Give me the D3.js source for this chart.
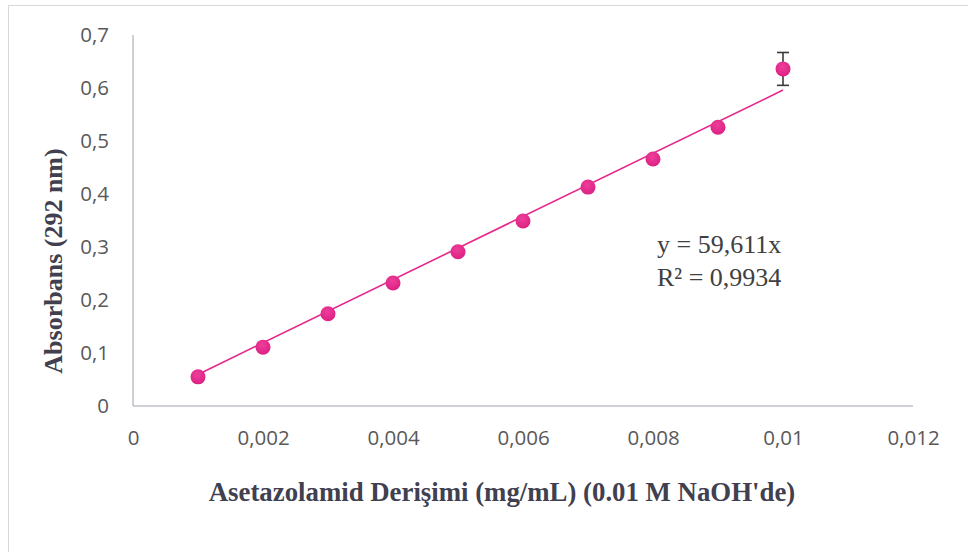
<!DOCTYPE html>
<html>
<head>
<meta charset="utf-8">
<script src="https://cdn.jsdelivr.net/npm/d3@7"></script>
<style>
  body { margin: 0; background: #fff; }
  svg { display: block; }
</style>
</head>
<body>
<svg id="chart" width="968" height="552"></svg>
<script>
// concentration (mg/mL) and absorbance
var conc = [0.001, 0.002, 0.003, 0.004, 0.005, 0.006, 0.007, 0.008, 0.009, 0.01];
var absorb = [0.055, 0.111, 0.174, 0.232, 0.291, 0.349, 0.413, 0.466, 0.526, 0.636];
var errs = [0, 0, 0, 0, 0, 0, 0, 0, 0, 0.031];
var slope = 59.611;
var xTicks = [0, 0.002, 0.004, 0.006, 0.008, 0.01, 0.012];
var yTicks = [0, 0.1, 0.2, 0.3, 0.4, 0.5, 0.6, 0.7];
var eqLines = ["y = 59,611x", "R² = 0,9934"];

var pink = "#E6288C";
var serif = "'Liberation Serif', 'DejaVu Serif', serif";
var svg = d3.select("#chart");

//## chart frame
svg.append("rect")
    .attr("x", 8.5).attr("y", 5.5)
    .attr("width", 980).attr("height", 580)
    .attr("fill", "none")
    .attr("stroke", "#D9D9D9");

var x = d3.scaleLinear().domain([0, 0.012]).range([133, 913]);
var y = d3.scaleLinear().domain([0, 0.7]).range([406, 35]);

function comma(v) { return String(+v.toFixed(4)).replace(".", ","); }

//## axes
var xAxis = svg.append("g")
    .attr("transform", "translate(0,406)")
    .call(d3.axisBottom(x).tickValues(xTicks).tickSize(0).tickPadding(24).tickFormat(comma));
var yAxis = svg.append("g")
    .attr("transform", "translate(133,0)")
    .call(d3.axisLeft(y).tickValues(yTicks).tickSize(0).tickPadding(24).tickFormat(comma));

[xAxis, yAxis].forEach(function(a) {
    a.select(".domain").attr("stroke", "#BFBFC8").attr("stroke-width", 1.5);
    a.selectAll("text")
        .attr("fill", "#595959")
        .style("font-family", "'Open Sans', 'Noto Sans', sans-serif")
        .style("font-size", "20.5px");
});
yAxis.select(".domain").attr("d", "M0," + y(0) + "V" + y(0.7));
xAxis.select(".domain").attr("d", "M" + x(0) + ",0H" + x(0.012));

//## trend line
svg.append("line")
    .attr("x1", x(conc[0])).attr("y1", y(slope * conc[0]))
    .attr("x2", x(conc[conc.length - 1])).attr("y2", y(slope * conc[conc.length - 1]))
    .attr("stroke", pink)
    .attr("stroke-width", 1.6);

//## error bars
var eb = svg.append("g").selectAll("g")
    .data(conc.map(function(c, i) { return { c: c, a: absorb[i], e: errs[i] }; })
        .filter(function(d) { return d.e > 0; }))
    .enter().append("g")
    .attr("stroke", "#3A3A3A")
    .attr("stroke-width", 1.6);
eb.append("line")
    .attr("x1", function(d) { return x(d.c); }).attr("x2", function(d) { return x(d.c); })
    .attr("y1", function(d) { return y(d.a + d.e); }).attr("y2", function(d) { return y(d.a - d.e); });
eb.append("line")
    .attr("x1", function(d) { return x(d.c) - 6; }).attr("x2", function(d) { return x(d.c) + 6; })
    .attr("y1", function(d) { return y(d.a + d.e); }).attr("y2", function(d) { return y(d.a + d.e); });
eb.append("line")
    .attr("x1", function(d) { return x(d.c) - 6; }).attr("x2", function(d) { return x(d.c) + 6; })
    .attr("y1", function(d) { return y(d.a - d.e); }).attr("y2", function(d) { return y(d.a - d.e); });

//## points
var defs = svg.append("defs");
var grad = defs.append("radialGradient").attr("id", "ptGrad")
    .attr("cx", "45%").attr("cy", "35%").attr("r", "65%");
grad.append("stop").attr("offset", "0%").attr("stop-color", "#EE3E9A");
grad.append("stop").attr("offset", "100%").attr("stop-color", "#DC2083");

svg.append("g").selectAll("circle")
    .data(conc)
    .enter().append("circle")
    .attr("cx", function(d) { return x(d); })
    .attr("cy", function(d, i) { return y(absorb[i]); })
    .attr("r", 7.5)
    .attr("fill", "url(#ptGrad)");

//## equation label
svg.append("text")
    .attr("x", 657).attr("y", 253)
    .attr("fill", "#404040")
    .style("font-family", serif)
    .style("font-size", "26px")
    .selectAll("tspan")
    .data(eqLines)
    .enter().append("tspan")
    .attr("x", 657)
    .attr("dy", function(d, i) { return i === 0 ? 0 : 33; })
    .text(function(d) { return d; });

//## axis titles
svg.append("text")
    .attr("x", 502).attr("y", 501)
    .attr("text-anchor", "middle")
    .attr("fill", "#404050")
    .style("font-family", serif)
    .style("font-weight", "bold")
    .style("font-size", "26.8px")
    .text("Asetazolamid Derişimi (mg/mL) (0.01 M NaOH'de)");

svg.append("text")
    .attr("transform", "translate(62,261) rotate(-90)")
    .attr("text-anchor", "middle")
    .attr("fill", "#404050")
    .style("font-family", serif)
    .style("font-weight", "bold")
    .style("font-size", "26px")
    .text("Absorbans (292 nm)");
</script>
</body>
</html>
